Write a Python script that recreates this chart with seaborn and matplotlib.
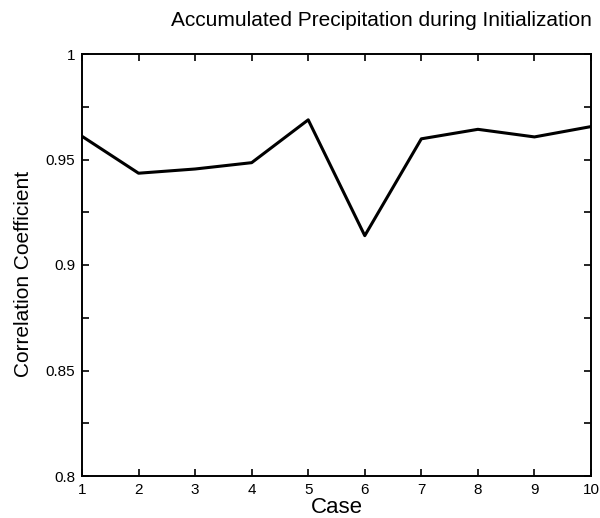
import matplotlib
matplotlib.use("Agg")
import matplotlib.pyplot as plt
import seaborn as sns
import pandas as pd

# data
cases = [1, 2, 3, 4, 5, 6, 7, 8, 9, 10]
corr = [0.961, 0.9435, 0.9455, 0.9485, 0.9688, 0.9139, 0.9598, 0.9643, 0.9607, 0.9656]
y_ticks = [0.8, 0.85, 0.9, 0.95, 1.0]
y_labels = ["0.8", "0.85", "0.9", "0.95", "1"]

df = pd.DataFrame({"Case": cases, "Correlation Coefficient": corr})

sns.set_style("ticks", {"text.color": "black", "axes.labelcolor": "black",
                        "xtick.color": "black", "ytick.color": "black"})
plt.rcParams['font.family'] = ['Liberation Sans', 'DejaVu Sans']

fig = plt.figure(figsize=(6, 5.18), dpi=100)
ax = fig.add_axes([82 / 600, 1 - 476 / 518, (591 - 82) / 600, (476 - 54) / 518])

sns.lineplot(data=df, x="Case", y="Correlation Coefficient", color="black",
             linewidth=2.2, ax=ax)

ax.set_xlim(1, 10)
ax.set_ylim(0.8, 1.0)
ax.set_xticks(cases)
ax.set_xticklabels([str(c) for c in cases], fontsize=11)
ax.set_yticks(y_ticks)
ax.set_yticklabels(y_labels, fontsize=11)
ax.set_yticks([0.825, 0.875, 0.925, 0.975], minor=True)
ax.tick_params(which="both", direction="in", top=True, right=True,
               width=1.2, color="black", labelcolor="black")
ax.tick_params(which="major", length=5, pad=5)
ax.tick_params(which="minor", length=5)
for s in ax.spines.values():
    s.set_linewidth(1.4)
    s.set_color("black")

ax.set_xlabel("Case", fontsize=16, labelpad=0, color="black")
ax.set_ylabel("Correlation Coefficient", fontsize=15, color="black")
ax.yaxis.set_label_coords(-0.097, 0.48)
fig.text(381 / 600, 1 - 20 / 518, "Accumulated Precipitation during Initialization",
         ha="center", va="center", fontsize=15, color="black")

fig.savefig("out.png", dpi=100)
